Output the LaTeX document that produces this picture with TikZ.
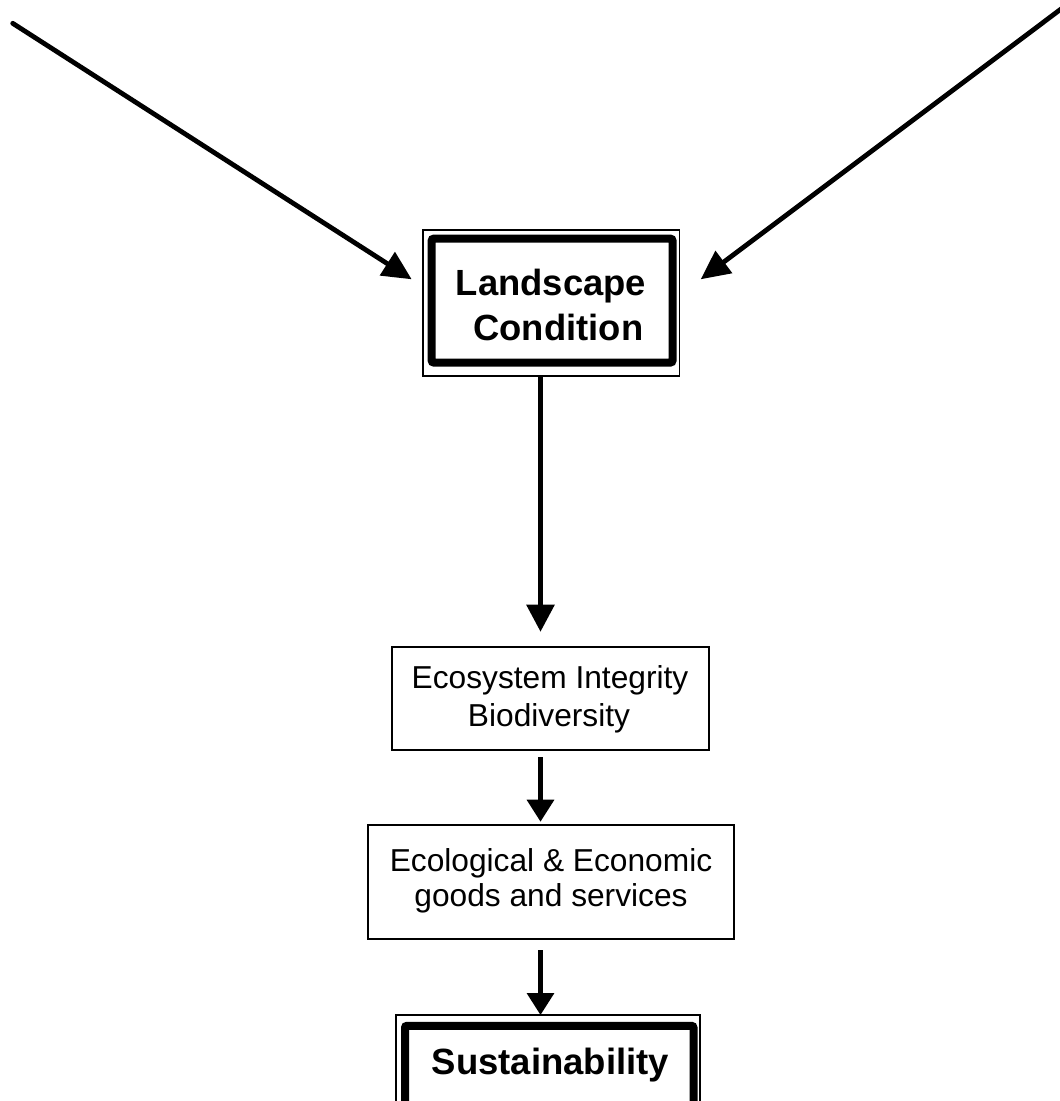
\documentclass[tikz,border=0pt]{standalone}
\usepackage{fontspec}
\setmainfont{Liberation Sans}
\usetikzlibrary{arrows.meta,calc}
\begin{document}
\begin{tikzpicture}[x=1pt,y=-1pt,
  thinbox/.style={draw, line width=1.6pt, inner sep=0pt, outer sep=0pt, rectangle},
  thickframe/.style={draw, line width=8pt, rounded corners=2pt},
  boldtxt/.style={anchor=base, inner sep=0pt, font=\fontsize{36.4}{43}\selectfont\bfseries},
  plaintxt/.style={anchor=base, inner sep=0pt, font=\fontsize{31.7}{38}\selectfont},
  bigarrow/.style={line width=4.8pt, line cap=round, -{Triangle[length=29pt,width=27pt]}},
  vertarrow/.style={line width=4.3pt, -{Triangle[length=27pt,width=27.5pt]}},
  smallarrow/.style={line width=4.3pt, -{Triangle[length=22pt,width=26.7pt]}}]
\useasboundingbox (0,0) rectangle (1060,1101);
\fill[white] (0,0) rectangle (1060,1101);

% boxes
\node[thinbox, minimum width=256.6pt, minimum height=145.7pt] (land) at (551,302.85) {};
\draw[thickframe] (431.7,238.7) rectangle (672.5,362.5);
\node[boldtxt] (landt1) at (551,295) {Landscape};
\node[boldtxt] (landt2) at (558.3,340) {Condition};

\node[thinbox, minimum width=317pt, minimum height=103pt] (eco) at (550.5,698.5) {};
\node[plaintxt] (ecot1) at (550,688.3) {Ecosystem Integrity};
\node[plaintxt] (ecot2) at (549,726.7) {Biodiversity};

\node[thinbox, minimum width=366pt, minimum height=114pt] (ecol) at (551,882) {};
\node[plaintxt] (ecolt1) at (551,871.7) {Ecological \& Economic};
\node[plaintxt] (ecolt2) at (551,906.7) {goods and services};

\node[thinbox, minimum width=304pt, minimum height=105pt] (sust) at (548,1067.5) {};
\draw[thickframe] (405,1025.8) rectangle (693.5,1111);
\node[boldtxt, font=\fontsize{36.5}{43}\selectfont\bfseries] (sustt) at (550.5,1074) {Sustainability};

% connectors
\coordinate (lstart) at (12.7,23.3);
\coordinate (rstart) at (1066,5.3);
\draw[bigarrow] (lstart) -- ($(land.north west)+(-11,49.3)$);
\draw[bigarrow] (rstart) -- ($(land.north east)+(21.4,49.3)$);
\draw[vertarrow] ([xshift=-10.5pt]land.south) -- ([xshift=-10pt,yshift=15.3pt]eco.north);
\draw[smallarrow] ([xshift=-10pt,yshift=-7pt]eco.south) -- ([xshift=-10.5pt,yshift=3.3pt]ecol.north);
\draw[smallarrow] ([xshift=-10.5pt,yshift=-11pt]ecol.south) -- ([xshift=-7.5pt]sust.north);
\end{tikzpicture}
\end{document}
